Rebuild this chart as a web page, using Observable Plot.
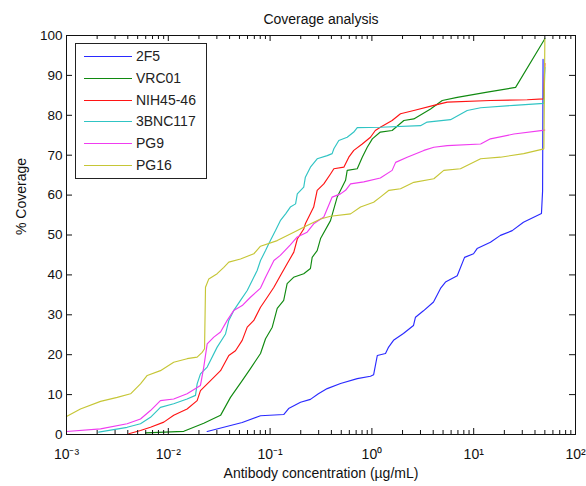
<!DOCTYPE html>
<html>
<head>
<meta charset="utf-8">
<script src="https://cdn.jsdelivr.net/npm/d3@7"></script>
<script src="https://cdn.jsdelivr.net/npm/@observablehq/plot@0.6"></script>
<style>
  html, body { margin: 0; padding: 0; background: #fff; }
  #wrap { position: relative; width: 586px; height: 486px; font-family: "Liberation Sans", Arial, sans-serif; }
  #legend { position: absolute; left: 75px; top: 43px; width: 132px; height: 136px; border: 1px solid #222; background: #fff; box-sizing: border-box; }
  .row { position: absolute; left: 0; height: 20px; width: 130px; }
  .row .sw { position: absolute; left: 8px; top: 9px; width: 48px; height: 0; border-top: 1px solid; }
  .row .lb { position: absolute; left: 60px; top: 1px; font-size: 14px; color: #222; line-height: 17px; }
</style>
</head>
<body>
<div id="wrap"></div>
<script>
// ---- data ----
const seriesNames = ["2F5", "VRC01", "NIH45-46", "3BNC117", "PG9", "PG16"];
const seriesColors = ["#2a2aff", "#108a10", "#ff1414", "#30c4c4", "#f03cf0", "#c6c636"];

const conc2F5 = [0.0241,0.0532,0.0805,0.136,0.152,0.199,0.249,0.298,0.364,0.492,0.718,0.968,1.04,1.13,1.36,1.46,1.63,2.04,2.56,2.68,3.21,4.03,4.72,5.28,6.89,8.13,9.96,10.8,14.6,18.3,23.9,30.8,46.3,47.5,48];
const cov2F5  = [0.75,3,4.7,5,6.5,8.1,8.8,10.2,11.5,12.8,14,14.6,15,19.8,20.3,21.9,23.6,25.3,27.3,29.4,31,33.2,36.6,38.2,39.8,44.4,45.3,46.6,48.2,49.9,51.1,53.2,55.4,61,94];

const concVRC01 = [0.00597,0.0142,0.0223,0.0326,0.0408,0.0532,0.0641,0.0805,0.0902,0.105,0.1175,0.136,0.147,0.170,0.214,0.249,0.259,0.290,0.313,0.392,0.456,0.551,0.572,0.718,0.804,0.900,1.01,1.21,1.58,2.06,2.58,3.77,4.91,6.89,13.6,25.8,50];
const covVRC01  = [0.4,0.8,2.8,4.8,9.3,13.5,16.5,20.3,24,26.9,31.6,33.6,37.8,39.4,40.3,41.6,44.4,46.1,49.1,53.6,59.5,63.7,66.2,66.6,69.5,72,74.1,75.8,76.2,78.7,79.1,81.6,83.7,84.5,85.8,87,99.2];

const concNIH = [0.00409,0.00533,0.00668,0.00904,0.0113,0.0153,0.0192,0.0207,0.0260,0.0326,0.0393,0.0457,0.0532,0.0596,0.0692,0.0805,0.0938,0.109,0.126,0.147,0.171,0.185,0.214,0.222,0.268,0.290,0.337,0.392,0.423,0.530,0.593,0.664,0.804,0.968,1.08,1.21,1.58,1.91,2.58,4.06,5.50,14.6,33.5,48.5,50];
const covNIH  = [0.2,1,1.8,3.1,4.8,6.4,8.5,11,13.5,16,19.8,21,23.6,26.9,28.6,31.9,34.4,36.9,39.8,42.8,45.7,49,51.5,52.8,57,61.2,62.8,65.3,66.6,67,69.5,71.2,72.8,74.5,76.2,77,78.7,80.4,81.2,82.5,83.3,83.7,83.9,84.1,93];

const conc3BNC = [0.00207,0.00394,0.00533,0.00668,0.00837,0.0113,0.0153,0.0185,0.0192,0.0207,0.0241,0.0302,0.0365,0.0393,0.0440,0.0512,0.0596,0.0667,0.0746,0.0805,0.0902,0.0970,0.113,0.126,0.142,0.158,0.178,0.185,0.214,0.222,0.249,0.290,0.364,0.407,0.423,0.473,0.572,0.664,0.718,1.21,3.00,3.49,5.92,8.63,11.7,24.8,48.9,50];
const cov3BNC  = [0.6,1.8,2.7,4.3,6.8,7.7,8.9,9.8,12.7,15.2,16.9,21.9,25.2,28.6,31.1,33.6,36.1,38.6,41.1,43.6,46.1,47.8,51.1,53.6,55.3,57,57.8,60.3,62,64.5,67,69.1,69.9,70.4,71.6,73.7,74.5,75.8,76.9,77,77.4,78.3,78.9,81.2,81.9,82.5,83,92];

const concPG9 = [0.001,0.00216,0.00394,0.00533,0.00668,0.00837,0.0113,0.0153,0.0207,0.0223,0.0241,0.0280,0.0326,0.0379,0.0440,0.0532,0.0641,0.0805,0.0902,0.109,0.126,0.158,0.185,0.231,0.268,0.337,0.407,0.492,0.551,0.617,0.832,1.21,1.58,1.71,2.22,3.24,4.06,5.50,11.7,14.6,24.8,50];
const covPG9  = [0.75,1.4,2.7,3.9,6,8.5,8.9,10.2,12.3,16.9,22.7,24.4,25.7,28.6,31.1,32.3,34.4,36.7,39.4,43.6,44.9,47.5,49.5,50.7,52.8,54.5,59.5,60.3,61.2,62.8,63.3,64.3,66.2,68.2,69.5,71.2,72,72.4,72.8,74.1,75.3,76.3];

const concPG16 = [0.001,0.00137,0.00216,0.00315,0.00426,0.00533,0.00621,0.00837,0.0113,0.0153,0.0192,0.0215,0.0227,0.0232,0.0250,0.0302,0.0351,0.0393,0.0512,0.0692,0.0805,0.1175,0.171,0.231,0.313,0.392,0.617,0.773,1.04,1.21,1.47,1.91,2.58,4.06,5.08,7.41,11.7,18.3,31.0,48.9,50];
const covPG16  = [4.5,6.4,8.3,9.3,10.2,12.7,14.8,16,18.1,19,19.4,20.6,21.5,36.9,39,40.3,41.9,43.2,44,45.3,47.2,48.6,50.7,52.4,54,54.7,55.3,57,58.2,59.5,61.2,61.6,63.2,64.1,66.2,66.6,69.1,69.5,70.4,71.6,99];

const xMajorTicks = [0.001, 0.01, 0.1, 1, 10, 100];
const xTickLabels = ["10\u207B\u00B3", "10\u207B\u00B2", "10\u207B\u00B9", "10\u2070", "10\u00B9", "10\u00B2"];
const xMinorTicks = [0.002,0.003,0.004,0.005,0.006,0.007,0.008,0.009,0.02,0.03,0.04,0.05,0.06,0.07,0.08,0.09,0.2,0.3,0.4,0.5,0.6,0.7,0.8,0.9,2,3,4,5,6,7,8,9,20,30,40,50,60,70,80,90];
const yTicks = [0,10,20,30,40,50,60,70,80,90,100];

const titleText = "Coverage analysis";
const xLabelText = "Antibody concentration (\u00B5g/mL)";
const yLabelText = "% Coverage";

// ---- build table ----
const concs = [conc2F5, concVRC01, concNIH, conc3BNC, concPG9, concPG16];
const covs = [cov2F5, covVRC01, covNIH, cov3BNC, covPG9, covPG16];
const table = seriesNames.flatMap((s, i) => concs[i].map((c, j) => ({s, c, v: covs[i][j]})));

// ---- layout ----
const W = 586, H = 486, mL = 66, mR = 11, mT = 35, mB = 52;
const fw = W - mL - mR, fh = H - mT - mB;
const major = 6, minor = 4;
const ink = "#111";

const chart = Plot.plot({
  width: W,
  height: H,
  marginLeft: mL,
  marginRight: mR,
  marginTop: mT,
  marginBottom: mB,
  style: {fontFamily: "'Liberation Sans', Arial, sans-serif", fontSize: "13.5px", color: ink, background: "#fff"},
  x: {type: "log", domain: [0.001, 100]},
  y: {domain: [0, 100]},
  color: {domain: seriesNames, range: seriesColors},
  marks: [
    Plot.line(table, {x: "c", y: "v", z: "s", stroke: "s", strokeWidth: 1.15}),
    Plot.frame({stroke: ink}),
    // inward tick marks on all four sides
    Plot.tickX(xMinorTicks, {x: d => d, insetTop: fh - minor, stroke: ink}),
    Plot.tickX(xMinorTicks, {x: d => d, insetBottom: fh - minor, stroke: ink}),
    Plot.tickX(xMajorTicks, {x: d => d, insetTop: fh - major, stroke: ink}),
    Plot.tickX(xMajorTicks, {x: d => d, insetBottom: fh - major, stroke: ink}),
    Plot.tickY(yTicks, {y: d => d, insetRight: fw - major, stroke: ink}),
    Plot.tickY(yTicks, {y: d => d, insetLeft: fw - major, stroke: ink}),
    // tick labels
    Plot.axisX(xMajorTicks, {anchor: "bottom", tickSize: 0, tickPadding: 15, tickFormat: d => xTickLabels[xMajorTicks.indexOf(d)], label: null, fontSize: 14, fill: ink}),
    Plot.axisY(yTicks, {anchor: "left", tickSize: 0, tickPadding: 4, label: null, fontSize: 13.5, fill: ink}),
    // title and axis titles
    Plot.text([titleText], {frameAnchor: "top", dy: -21, fontSize: 14, fill: ink}),
    Plot.text([xLabelText], {frameAnchor: "bottom", dy: 43, fontSize: 14, fill: ink}),
    Plot.text([yLabelText], {frameAnchor: "left", dx: -45, rotate: -90, fontSize: 14, fill: ink})
  ]
});

const wrap = document.getElementById("wrap");
wrap.appendChild(chart);

// legend (drawn inside the axes, top-left, like the original)
const legend = document.createElement("div");
legend.id = "legend";
seriesNames.forEach((name, i) => {
  const row = document.createElement("div");
  row.className = "row";
  row.style.top = (3 + i * 21.8) + "px";
  const sw = document.createElement("div");
  sw.className = "sw";
  sw.style.borderTopColor = seriesColors[i];
  const lb = document.createElement("div");
  lb.className = "lb";
  lb.textContent = name;
  row.appendChild(sw);
  row.appendChild(lb);
  legend.appendChild(row);
});
wrap.appendChild(legend);
</script>
</body>
</html>
